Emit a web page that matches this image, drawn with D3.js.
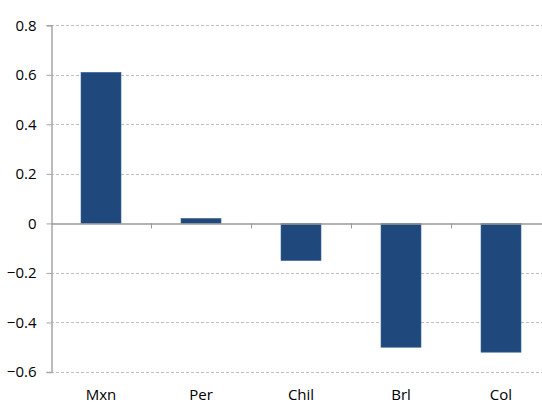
<!DOCTYPE html>
<html><head><meta charset="utf-8">
<script src="https://cdn.jsdelivr.net/npm/d3@7"></script>
<style>body{margin:0;background:#fff}svg{display:block}</style>
</head><body><svg id="c" width="542" height="404"></svg>
<script>
const categories = ["Mxn","Per","Chil","Brl","Col"];
const values = [0.61, 0.02, -0.15, -0.50, -0.52];
const yTicks = [-0.6,-0.4,-0.2,0,0.2,0.4,0.6,0.8];

(function(){
const svg = d3.select("#c");
const mL = 51, mR = 551, mT = 25.3, mB = 372;
const x = d3.scaleBand().domain(categories).range([mL, mR]).paddingInner(0.6).paddingOuter(0.3);
const xb = d3.scaleBand().domain(categories).range([mL, mR]);
const y = d3.scaleLinear().domain([-0.6, 0.8]).range([mB, mT]);
const font = "Open Sans, sans-serif";

// grid
svg.append("g").selectAll("line").data(yTicks.filter(d => d !== 0)).join("line")
  .attr("x1", mL).attr("x2", 542)
  .attr("y1", d => Math.round(y(d)) + 0.5).attr("y2", d => Math.round(y(d)) + 0.5)
  .attr("stroke", "#c0c0c0").attr("stroke-dasharray", "3,2").attr("stroke-width", 1);

// bars
svg.append("g").selectAll("rect").data(categories).join("rect")
  .attr("x", d => x(d)).attr("width", x.bandwidth())
  .attr("y", (d, i) => y(Math.max(0, values[i])))
  .attr("height", (d, i) => Math.abs(y(values[i]) - y(0)))
  .attr("fill", "#1f497d").attr("stroke", "#3f6597").attr("stroke-width", 0.6);

// y axis
const ya = svg.append("g").attr("transform", `translate(${mL + 0.5},0)`)
  .call(d3.axisLeft(y).tickValues(yTicks).tickSize(5).tickPadding(10).tickFormat(d => d === 0 ? "0" : d3.format(".1f")(d)));
ya.select(".domain").attr("stroke", "#a6a6a6").attr("stroke-width", 1.5);
ya.selectAll(".tick line").attr("stroke", "#a6a6a6");
ya.selectAll(".tick text").attr("font-family", font).attr("font-size", 15).attr("fill", "#000");

// x axis at zero
const xa = svg.append("g").attr("transform", `translate(0,${Math.round(y(0)) + 0.5})`)
  .call(d3.axisBottom(xb).tickSize(0).tickFormat(""));
xa.select(".domain").attr("stroke", "#999").attr("stroke-width", 1.5);
xa.selectAll(".tick").remove();
svg.append("g").selectAll("line").data(d3.range(1, categories.length)).join("line")
  .attr("x1", i => mL + i * xb.bandwidth() + 0.5).attr("x2", i => mL + i * xb.bandwidth() + 0.5)
  .attr("y1", y(0)).attr("y2", y(0) + 5).attr("stroke", "#999");

// category labels
svg.append("g").selectAll("text").data(categories).join("text")
  .attr("x", d => xb(d) + xb.bandwidth() / 2).attr("y", 400)
  .attr("text-anchor", "middle").attr("font-family", font).attr("font-size", 15).attr("fill", "#000")
  .text(d => d);
})();
</script></body></html>
